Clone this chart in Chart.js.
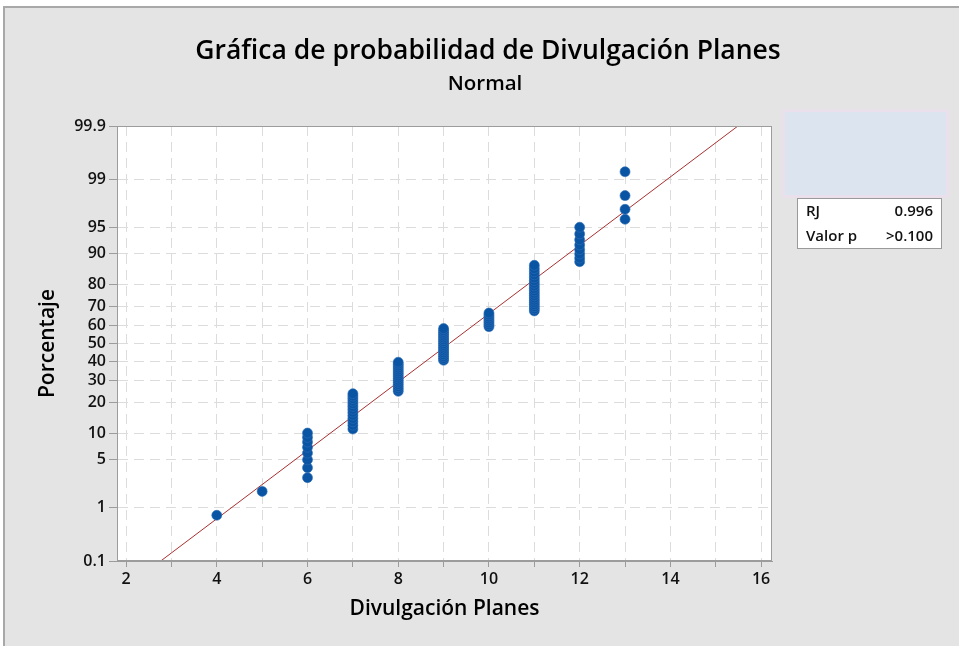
<!DOCTYPE html>
<html lang="es">
<head>
<meta charset="utf-8">
<title>Gráfica de probabilidad de Divulgación Planes</title>
<script src="https://cdn.jsdelivr.net/npm/chart.js@4.4.1/dist/chart.umd.min.js"></script>
<style>
  html, body { margin: 0; padding: 0; background: #fff; }
  canvas { display: block; }
</style>
</head>
<body>
<canvas id="probChart" width="959" height="646"></canvas>
<script>
// valores observados de Divulgación Planes y cuantas veces sale cada uno
const valores = [4, 5, 6, 7, 8, 9, 10, 11, 12, 13];
const frecuencias = [1, 1, 8, 13, 15, 18, 8, 19, 8, 4];

// escala de probabilidad (porcentaje) y eje x
const porcentajeTicks = [0.1, 1, 5, 10, 20, 30, 40, 50, 60, 70, 80, 90, 95, 99, 99.9];
const xTicks = [2, 3, 4, 5, 6, 7, 8, 9, 10, 11, 12, 13, 14, 15, 16];
const xEtiquetas = ['2', '', '4', '', '6', '', '8', '', '10', '', '12', '', '14', '', '16'];

// tabla de la derecha
const estadisticas = [['RJ', '0.996'], ['Valor p', '>0.100']];

const FUENTE = '"Open Sans", "Noto Sans", sans-serif';

// inversa de la normal (Acklam)
function zDe(p) {
  const a = [-3.969683028665376e+01, 2.209460984245205e+02, -2.759285104469687e+02, 1.383577518672690e+02, -3.066479806614716e+01, 2.506628277459239e+00];
  const b = [-5.447609879822406e+01, 1.615858368580409e+02, -1.556989798598866e+02, 6.680131188771972e+01, -1.328068155288572e+01];
  const c = [-7.784894002430293e-03, -3.223964580411365e-01, -2.400758277161838e+00, -2.549732539343734e+00, 4.374664141464968e+00, 2.938163982698783e+00];
  const d = [7.784695709041462e-03, 3.224671290700398e-01, 2.445134137142996e+00, 3.754408661907416e+00];
  const pl = 0.02425;
  let q, r;
  if (p < pl) {
    q = Math.sqrt(-2 * Math.log(p));
    return (((((c[0]*q+c[1])*q+c[2])*q+c[3])*q+c[4])*q+c[5]) / ((((d[0]*q+d[1])*q+d[2])*q+d[3])*q+1);
  }
  if (p > 1 - pl) {
    q = Math.sqrt(-2 * Math.log(1 - p));
    return -(((((c[0]*q+c[1])*q+c[2])*q+c[3])*q+c[4])*q+c[5]) / ((((d[0]*q+d[1])*q+d[2])*q+d[3])*q+1);
  }
  q = p - 0.5; r = q * q;
  return (((((a[0]*r+a[1])*r+a[2])*r+a[3])*r+a[4])*r+a[5])*q / (((((b[0]*r+b[1])*r+b[2])*r+b[3])*r+b[4])*r+1);
}

// puntos con rangos medianos (i - 0.3) / (n + 0.4)
const n = frecuencias.reduce((s, f) => s + f, 0);
const puntos = [];
let rango = 0;
valores.forEach((v, k) => {
  for (let j = 0; j < frecuencias[k]; j++) {
    rango++;
    puntos.push({ x: v, y: zDe((rango - 0.3) / (n + 0.4)) });
  }
});

// recta ajustada con media y desviacion de los datos
let suma = 0;
valores.forEach((v, k) => { suma += v * frecuencias[k]; });
const media = suma / n;
let ss = 0;
valores.forEach((v, k) => { ss += frecuencias[k] * (v - media) * (v - media); });
const desv = Math.sqrt(ss / (n - 1));
const zMin = zDe(porcentajeTicks[0] / 100);
const zMax = zDe(porcentajeTicks[porcentajeTicks.length - 1] / 100);
const recta = [
  { x: media + desv * zMin, y: zMin },
  { x: media + desv * zMax, y: zMax }
];

const decorado = {
  id: 'decorado',
  beforeDraw(chart) {
    const { ctx, chartArea: a, width: w, height: h } = chart;
    ctx.save();
    ctx.fillStyle = '#ffffff';
    ctx.fillRect(0, 0, w, h);
    ctx.fillStyle = '#e4e4e4';
    ctx.fillRect(4, 7, w - 4, h - 7);
    ctx.strokeStyle = '#a8a8a8';
    ctx.lineWidth = 2;
    ctx.beginPath();
    ctx.moveTo(4, h); ctx.lineTo(4, 7); ctx.lineTo(w, 7);
    ctx.stroke();
    ctx.fillStyle = '#ffffff';
    ctx.fillRect(a.left, a.top, a.right - a.left, a.bottom - a.top);
    ctx.restore();
  },
  afterDraw(chart) {
    const { ctx, chartArea: a } = chart;
    ctx.save();
    // marco del area
    ctx.strokeStyle = '#9c9c9c';
    ctx.lineWidth = 1;
    ctx.strokeRect(a.left + 0.5, a.top + 0.5, a.right - a.left - 1, a.bottom - a.top - 1);

    // titulos
    ctx.fillStyle = '#000';
    ctx.textAlign = 'center';
    ctx.textBaseline = 'middle';
    ctx.font = '600 26.5px ' + FUENTE;
    ctx.fillText('Gráfica de probabilidad de Divulgación Planes', 488, 51);
    ctx.font = '600 20.5px ' + FUENTE;
    ctx.fillText('Normal', 485, 84);

    // recuadro azul
    ctx.fillStyle = '#e9e0ec';
    ctx.fillRect(782, 109, 167, 89);
    ctx.fillStyle = '#dce4f0';
    ctx.fillRect(785, 112, 161, 83);

    // tabla
    ctx.fillStyle = '#ffffff';
    ctx.fillRect(797, 198, 145, 51);
    ctx.strokeStyle = '#9a9a9a';
    ctx.strokeRect(797.5, 198.5, 144, 50);
    ctx.font = '600 15px ' + FUENTE;
    ctx.fillStyle = '#111';
    estadisticas.forEach((fila, i) => {
      const y = 212 + i * 25;
      ctx.textAlign = 'left';
      ctx.fillText(fila[0], 806, y);
      ctx.textAlign = 'right';
      ctx.fillText(fila[1], 933, y);
    });
    ctx.restore();
  }
};

const fuenteTicks = { family: FUENTE, size: 16, weight: '600' };

new Chart(document.getElementById('probChart'), {
  type: 'scatter',
  data: {
    datasets: [
      {
        label: 'Datos',
        data: puntos,
        backgroundColor: '#0a54a4',
        borderColor: '#2f6fb6',
        borderWidth: 0.6,
        pointRadius: 5,
        pointHoverRadius: 5,
        order: 1
      },
      {
        label: 'Ajuste',
        data: recta,
        showLine: true,
        borderColor: '#a93030',
        borderWidth: 1,
        pointRadius: 0,
        order: 2
      }
    ]
  },
  options: {
    responsive: false,
    animation: false,
    events: [],
    layout: { padding: { top: 126, right: 187, left: 0, bottom: 0 } },
    plugins: {
      legend: { display: false },
      tooltip: { enabled: false },
      title: { display: false }
    },
    scales: {
      x: {
        type: 'linear',
        min: 1.8,
        max: 16.24,
        afterBuildTicks: s => { s.ticks = xTicks.map(v => ({ value: v })); },
        afterFit: s => { s.height = 85; },
        ticks: {
          autoSkip: false,
          maxRotation: 0,
          padding: 3,
          color: '#111',
          font: fuenteTicks,
          callback: (v, i) => xEtiquetas[i]
        },
        grid: { color: '#dcdcdc', tickLength: 6, tickColor: '#9c9c9c', tickBorderDash: [] },
        border: { color: '#9c9c9c', dash: [10, 6] },
        title: {
          display: true,
          text: 'Divulgación Planes',
          color: '#000',
          font: { family: FUENTE, size: 21, weight: '600' },
          padding: { top: 0, bottom: 24 }
        }
      },
      y: {
        type: 'linear',
        min: zMin,
        max: zMax,
        afterBuildTicks: s => { s.ticks = porcentajeTicks.map(p => ({ value: zDe(p / 100) })); },
        afterFit: s => { s.width = 117; },
        ticks: {
          autoSkip: false,
          padding: 3,
          color: '#111',
          font: fuenteTicks,
          callback: (v, i) => String(porcentajeTicks[i])
        },
        grid: { color: '#dcdcdc', tickLength: 8, tickColor: '#9c9c9c', tickBorderDash: [] },
        border: { color: '#9c9c9c', dash: [10, 6] },
        title: {
          display: true,
          text: 'Porcentaje',
          color: '#000',
          font: { family: FUENTE, size: 21, weight: '600' },
          padding: { top: 35, bottom: 0 }
        }
      }
    }
  },
  plugins: [decorado]
});
</script>
</body>
</html>
